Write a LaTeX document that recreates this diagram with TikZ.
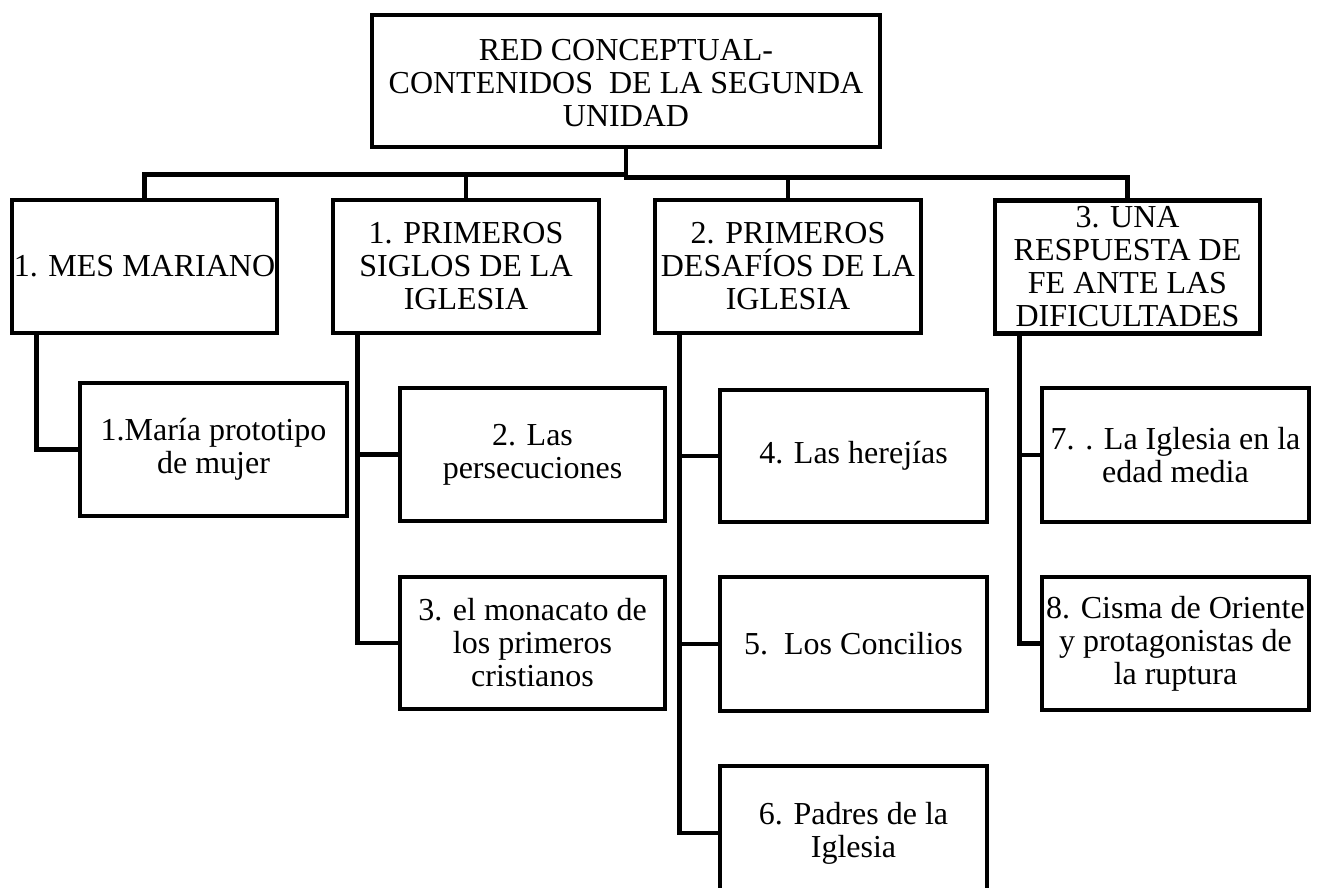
\documentclass[tikz,border=0pt]{standalone}
\usepackage{fontspec}
\setmainfont{Liberation Serif}
\usetikzlibrary{calc}
\tikzset{
  box/.style={draw=black, line width=4.8pt, rectangle, inner sep=0pt, align=center,
    font=\fontsize{32}{33}\selectfont, minimum height=133pt},
  conn/.style={draw=black, line width=4.3pt}
}
\begin{document}
\begin{tikzpicture}[x=1pt,y=-1pt]
\path[use as bounding box] (0,0) rectangle (1320,888);
\clip (0,0) rectangle (1320,888);
% top
\node[box, minimum width=508pt, minimum height=132pt] (top) at (626,81) {\raisebox{-6pt}[\height][\depth]{\begin{tabular}{@{}c@{}}RED CONCEPTUAL-\\CONTENIDOS~~DE LA SEGUNDA\\UNIDAD\end{tabular}}};
% level 1
\node[box, minimum width=265pt] (A) at (144.5,266.5) {1. MES MARIANO};
\node[box, minimum width=266pt] (B) at (466,266.5) {1. PRIMEROS\\SIGLOS DE LA\\IGLESIA};
\node[box, minimum width=266pt] (C) at (788,266.5) {2. PRIMEROS\\DESAFÍOS DE LA\\IGLESIA};
\node[box, minimum width=265pt] (D) at (1127.5,267) {3. UNA\\RESPUESTA DE\\FE ANTE LAS\\DIFICULTADES};
% level 2
\node[box, minimum width=267pt] (a1) at (213.5,449.5) {1.María prototipo\\de mujer};
\node[box, minimum width=265pt] (b1) at (532.5,454.5) {2. Las\\persecuciones};
\node[box, minimum width=265pt, minimum height=132pt] (b2) at (532.5,643) {3. el monacato de\\los primeros\\cristianos};
\node[box, minimum width=267pt, minimum height=132pt] (c1) at (853.5,456) {4. Las herejías};
\node[box, minimum width=267pt, minimum height=134pt] (c2) at (853.5,644) {5.~~Los Concilios};
\node[box, minimum width=267pt, minimum height=134pt] (c3) at (853.5,833) {6. Padres de la\\Iglesia};
\node[box, minimum width=267pt, minimum height=134pt] (d1) at (1175.5,455) {7. . La Iglesia en la\\edad media};
\node[box, minimum width=267pt, minimum height=133pt] (d2) at (1175.5,643.5) {8. Cisma de Oriente\\y protagonistas de\\la ruptura};
% top connectors
\draw[conn] (top.south) -- ++(0,25) -| (A.north);
\draw[conn] (top.south) -- ++(0,25) -| (B.north);
\draw[conn] (top.south) -- ++(0,28) -| (C.north);
\draw[conn] (top.south) -- ++(0,28) -| (D.north);
% child connectors
\draw[conn] ($(A.south west)+(27,0)$) |- (a1.west);
\draw[conn] ($(B.south west)+(27,0)$) |- (b1.west);
\draw[conn] ($(B.south west)+(27,0)$) |- (b2.west);
\draw[conn] ($(C.south west)+(27,0)$) |- (c1.west);
\draw[conn] ($(C.south west)+(27,0)$) |- (c2.west);
\draw[conn] ($(C.south west)+(27,0)$) |- (c3.west);
\draw[conn] ($(D.south west)+(27,0)$) |- (d1.west);
\draw[conn] ($(D.south west)+(27,0)$) |- (d2.west);
\end{tikzpicture}
\end{document}
